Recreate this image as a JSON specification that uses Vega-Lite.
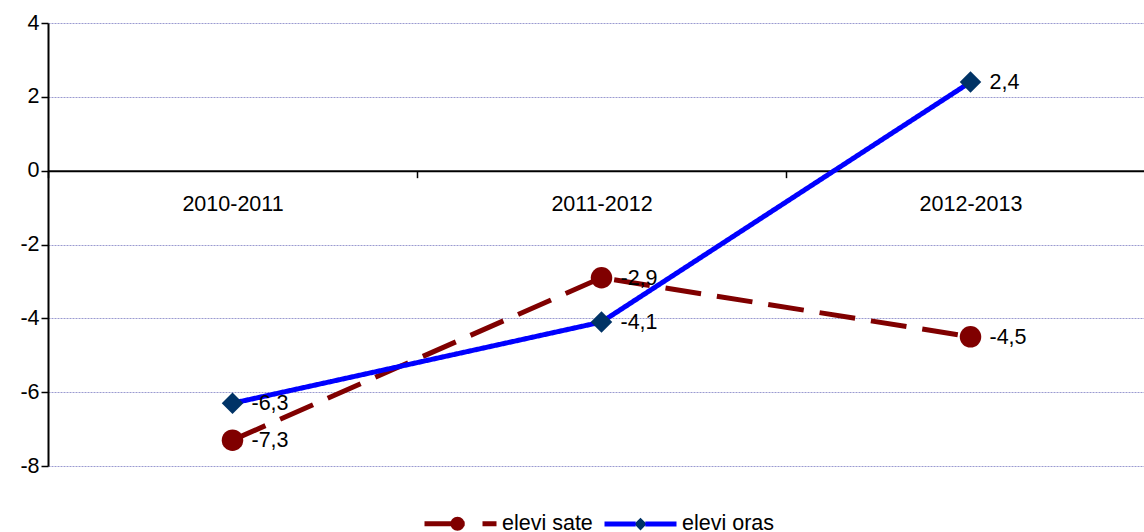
{
  "$schema": "https://vega.github.io/schema/vega-lite/v6.json",
  "width": 1096,
  "height": 443,
  "autosize": "none",
  "padding": {"left": 48, "top": 23, "right": 0, "bottom": 66},
  "background": "white",
  "config": {
    "font": "Liberation Sans",
    "view": {"stroke": null},
    "locale": {"number": {"decimal": ",", "thousands": ".", "grouping": [3], "currency": ["", ""], "minus": "-"}}
  },
  "data": {
    "values": [
      {"period": "2010-2011", "series": "elevi sate", "value": -7.3},
      {"period": "2011-2012", "series": "elevi sate", "value": -2.9},
      {"period": "2012-2013", "series": "elevi sate", "value": -4.5},
      {"period": "2010-2011", "series": "elevi oras", "value": -6.3},
      {"period": "2011-2012", "series": "elevi oras", "value": -4.1},
      {"period": "2012-2013", "series": "elevi oras", "value": 2.4}
    ]
  },
  "encoding": {
    "x": {
      "field": "period",
      "type": "nominal",
      "bandPosition": 0.5,
      "scale": {"type": "band", "range": [0, 1107], "paddingInner": 0, "paddingOuter": 0},
      "axis": {
        "orient": "bottom",
        "offset": -295.33,
        "title": null,
        "labelAngle": 0,
        "labelFontSize": 21.5,
        "labelColor": "black",
        "labelPadding": 16,
        "tickBand": "extent",
        "tickSize": 7,
        "tickColor": "black",
        "tickWidth": 1.5,
        "domainColor": "black",
        "domainWidth": 2,
        "grid": false
      }
    },
    "y": {
      "field": "value",
      "type": "quantitative",
      "scale": {"domain": [-8, 4], "nice": false, "zero": false},
      "axis": {
        "values": [-8, -6, -4, -2, 0, 2, 4],
        "title": null,
        "labelFontSize": 21.5,
        "labelColor": "black",
        "labelPadding": 2,
        "tickSize": 7,
        "tickColor": "black",
        "tickWidth": 1.5,
        "domainColor": "black",
        "domainWidth": 2,
        "grid": true,
        "gridColor": "#9a9ad0",
        "gridDash": [2, 1],
        "gridWidth": 1
      }
    }
  },
  "layer": [
    {
      "mark": {"type": "line", "strokeWidth": 5},
      "encoding": {
        "stroke": {
          "field": "series",
          "type": "nominal",
          "sort": "descending",
          "scale": {"range": ["#800000", "#0000ff"]},
          "legend": {
            "orient": "none",
            "legendX": 374,
            "legendY": 462,
            "direction": "horizontal",
            "title": null,
            "labelFontSize": 21.5,
            "labelColor": "black",
            "labelOffset": 3,
            "columnPadding": 1,
            "padding": 0,
            "symbolType": "M-1,0L1,0",
            "symbolSize": 5184,
            "symbolStrokeWidth": 5,
            "symbolOpacity": 1,
            "encode": {
              "symbols": {
                "update": {
                  "shape": {"signal": "datum.value === 'elevi sate' ? 'M-1,0L1,0L0.111,0A0.194,0.194,0,1,1,-0.277,0A0.194,0.194,0,1,1,0.111,0' : 'M-1,0L1,0L0.175,0L0,-0.175L-0.175,0L0,0.175L0.175,0'"},
                  "fill": {"signal": "datum.value === 'elevi sate' ? '#800000' : '#003366'"},
                  "stroke": {"signal": "datum.value === 'elevi sate' ? '#800000' : '#0000ff'"},
                  "strokeWidth": {"value": 5},
                  "strokeDash": {"signal": "datum.value === 'elevi sate' ? [40,18,14,2000] : [31.2,9.6,31.2,2000]"}
                }
              }
            }
          }
        },
        "strokeDash": {
          "field": "series",
          "type": "nominal",
          "scale": {"domain": ["elevi sate", "elevi oras"], "range": [[36, 16], [1, 0]]},
          "legend": null
        }
      }
    },
    {
      "mark": {"type": "point", "filled": true, "opacity": 1, "size": 462, "strokeWidth": 0},
      "encoding": {
        "fill": {
          "field": "series",
          "type": "nominal",
          "scale": {"domain": ["elevi sate", "elevi oras"], "range": ["#800000", "#003366"]},
          "legend": null
        },
        "shape": {
          "field": "series",
          "type": "nominal",
          "scale": {"domain": ["elevi sate", "elevi oras"], "range": ["circle", "diamond"]},
          "legend": null
        }
      }
    },
    {
      "mark": {"type": "text", "align": "left", "baseline": "middle", "dx": 19, "dy": 1, "fontSize": 21.5, "color": "black"},
      "encoding": {
        "text": {"field": "value", "type": "quantitative", "format": ".1f"},
        "detail": {"field": "series", "type": "nominal"}
      }
    }
  ]
}
